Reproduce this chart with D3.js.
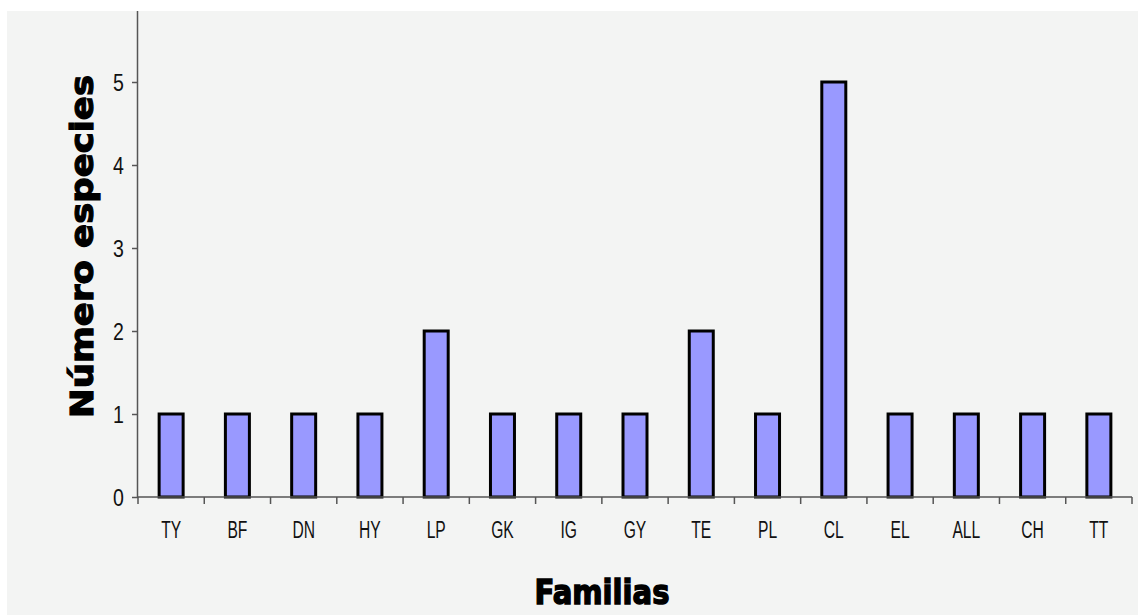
<!DOCTYPE html>
<html>
<head>
<meta charset="utf-8">
<script src="https://cdn.jsdelivr.net/npm/d3@7"></script>
<style>
html,body{margin:0;padding:0;background:#fff;}
svg{display:block;}
</style>
</head>
<body>
<svg id="chart" width="1138" height="615"></svg>
<script>
const categories = ["TY","BF","DN","HY","LP","GK","IG","GY","TE","PL","CL","EL","ALL","CH","TT"];
const values = [1,1,1,1,2,1,1,1,2,1,5,1,1,1,1];
const yTicks = [0,1,2,3,4,5];
const yTitle = "Número especies";
const xTitle = "Familias";

const svg = d3.select("#chart");
svg.append("rect").attr("x",7).attr("y",11).attr("width",1131).attr("height",604).attr("fill","#f3f4f3");

const x0 = 138, x1 = 1132, yZero = 497, unit = 83;
const yMax = (yZero - 11) / unit;
const y = d3.scaleLinear().domain([0, yMax]).range([yZero, 11]);
const step = (x1 - x0) / categories.length;
const pi = 1 - 24 / step;
const x = d3.scaleBand().domain(categories).range([x0, x1]).paddingInner(pi).paddingOuter(pi / 2);

const font = "'Liberation Sans', Arial, sans-serif";

// bars
svg.append("g").selectAll("rect").data(categories).join("rect")
  .attr("x", d => x(d))
  .attr("y", (d,i) => y(values[i]))
  .attr("width", x.bandwidth())
  .attr("height", (d,i) => y(0) - y(values[i]))
  .attr("fill", "#9999ff")
  .attr("stroke", "#000")
  .attr("stroke-width", 3);

// y axis
const yAxis = d3.axisLeft(y).tickValues(yTicks).tickSize(6).tickPadding(8).tickFormat(d3.format("d"));
const gy = svg.append("g").attr("transform", `translate(${x0},0)`).call(yAxis);
gy.select(".domain").attr("stroke", "#555").attr("stroke-width", 1.5).attr("d", `M-0.5,${yZero}V11`);
gy.selectAll(".tick line").attr("stroke", "#555").attr("stroke-width", 1.5);
gy.selectAll(".tick text").remove();
gy.selectAll(".tick").append("text")
  .attr("transform", "translate(-14,0) scale(0.85,1)")
  .attr("dy", "0.36em")
  .attr("text-anchor", "end")
  .attr("font-family", font).attr("font-size", 23).attr("fill", "#111")
  .text(d => d3.format("d")(d));

// x axis line and boundary ticks
const gx = svg.append("g");
gx.append("line").attr("x1", x0).attr("x2", x1).attr("y1", yZero).attr("y2", yZero).attr("stroke", "#555").attr("stroke-width", 1.5);
const bounds = d3.range(categories.length + 1).map(i => x0 + i * step);
gx.selectAll("line.bt").data(bounds).join("line").attr("class","bt")
  .attr("x1", d => d).attr("x2", d => d).attr("y1", yZero).attr("y2", yZero + 7)
  .attr("stroke", "#555").attr("stroke-width", 1.5);
gx.selectAll("text").data(categories).join("text")
  .attr("transform", d => `translate(${x(d) + x.bandwidth() / 2},538) scale(0.68,1)`)
  .attr("text-anchor", "middle")
  .attr("font-family", font)
  .attr("font-size", 23)
  .attr("fill", "#111")
  .text(d => d);

// titles
svg.append("text")
  .attr("transform", "translate(93,246.5) rotate(-90)")
  .attr("text-anchor", "middle")
  .attr("font-family", "'DejaVu Sans', sans-serif")
  .attr("font-weight", "bold")
  .attr("font-size", 32)
  .attr("textLength", 343)
  .attr("lengthAdjust", "spacingAndGlyphs")
  .attr("fill", "#000")
  .attr("stroke", "#000").attr("stroke-width", 1.2)
  .text(yTitle);

svg.append("text")
  .attr("x", 602)
  .attr("y", 604)
  .attr("text-anchor", "middle")
  .attr("font-family", "'DejaVu Sans', sans-serif")
  .attr("font-weight", "bold")
  .attr("font-size", 34)
  .attr("textLength", 135)
  .attr("lengthAdjust", "spacingAndGlyphs")
  .attr("fill", "#000")
  .attr("stroke", "#000").attr("stroke-width", 1.5)
  .text(xTitle);
</script>
</body>
</html>
